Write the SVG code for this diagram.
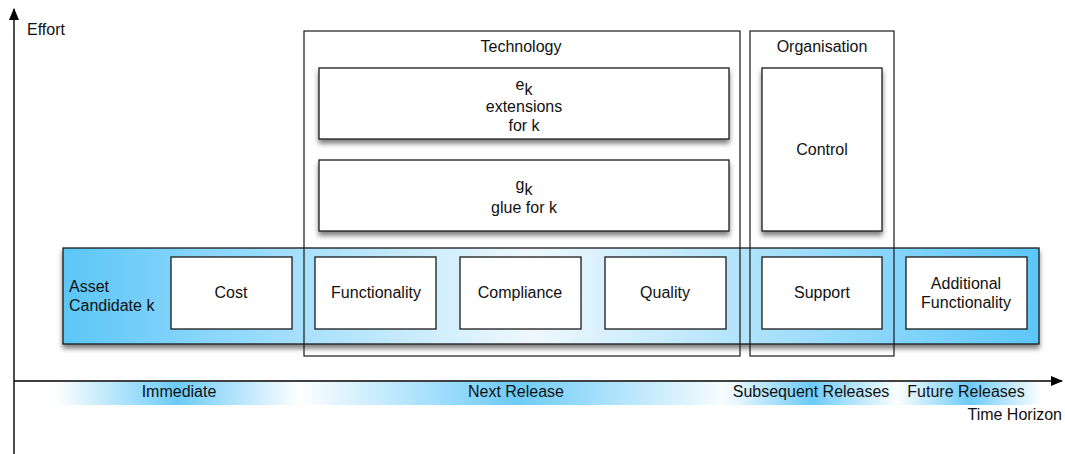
<svg xmlns="http://www.w3.org/2000/svg" width="1065" height="454" viewBox="0 0 1065 454">
<style>
text{font-family:"Liberation Sans",Arial,sans-serif;font-size:16px;fill:#111}
.c{text-anchor:middle}
.box{fill:#fff;stroke:#1a1a1a;stroke-width:1.3}
.grp{fill:none;stroke:#1a1a1a;stroke-width:1.2}
.axis{stroke:#000;stroke-width:1.4;fill:none}
</style>
<defs>
<filter id="sh" x="-10%" y="-20%" width="120%" height="150%">
<feDropShadow dx="0" dy="4" stdDeviation="2.5" flood-color="#000" flood-opacity="0.5"/>
</filter>
<linearGradient id="band" x1="0" y1="0" x2="1" y2="0">
<stop offset="0" stop-color="#5cc6f8"/>
<stop offset="0.48" stop-color="#eef8fe"/>
<stop offset="1" stop-color="#5cc6f8"/>
</linearGradient>
<linearGradient id="seg" x1="0" y1="0" x2="1" y2="0">
<stop offset="0" stop-color="#6ccbf8" stop-opacity="0"/>
<stop offset="0.5" stop-color="#6ccbf8" stop-opacity="1"/>
<stop offset="1" stop-color="#6ccbf8" stop-opacity="0"/>
</linearGradient>
<marker id="ah" markerWidth="12" markerHeight="10" refX="11" refY="5" orient="auto" markerUnits="userSpaceOnUse">
<path d="M0,0 L12,5 L0,10 Z" fill="#000"/>
</marker>
</defs>

<g id="timeline-bands">
<rect x="55" y="382" width="245" height="23" fill="url(#seg)"/>
<rect x="298" y="382" width="436" height="23" fill="url(#seg)"/>
<rect x="722" y="382" width="178" height="23" fill="url(#seg)"/>
<rect x="896" y="382" width="146" height="23" fill="url(#seg)"/>
</g>

<g id="connectors">
<line class="axis" x1="14" y1="454" x2="14" y2="9" marker-end="url(#ah)"/>
<line class="axis" x1="14" y1="381" x2="1062" y2="381" marker-end="url(#ah)"/>
</g>

<g id="axis-labels">
<text x="27" y="35">Effort</text>
<text x="1062" y="420" text-anchor="end">Time Horizon</text>
<text class="c" x="179" y="397">Immediate</text>
<text class="c" x="516" y="397">Next Release</text>
<text class="c" x="811" y="397">Subsequent Releases</text>
<text class="c" x="966" y="397">Future Releases</text>
</g>

<g id="asset-candidate">
<rect x="63" y="248" width="976" height="96" fill="url(#band)" stroke="#1a1a1a" stroke-width="1.3" filter="url(#sh)"/>
<text x="69" y="292">Asset</text>
<text x="69" y="311">Candidate k</text>
</g>

<g id="technology">
<rect class="grp" x="304" y="31" width="436" height="325"/>
<text class="c" x="521" y="52">Technology</text>
</g>

<g id="organisation">
<rect class="grp" x="750" y="31" width="144" height="325"/>
<text class="c" x="822" y="52">Organisation</text>
</g>

<g id="extensions">
<rect class="box" x="319" y="68" width="410" height="71" filter="url(#sh)"/>
<text class="c" x="524" y="90">e<tspan dy="5">k</tspan></text>
<text class="c" x="524" y="112">extensions</text>
<text class="c" x="524" y="131">for k</text>
</g>

<g id="glue">
<rect class="box" x="319" y="160" width="410" height="71" filter="url(#sh)"/>
<text class="c" x="524" y="190">g<tspan dy="5">k</tspan></text>
<text class="c" x="524" y="213">glue for k</text>
</g>

<g id="control">
<rect class="box" x="762" y="68" width="120" height="163" filter="url(#sh)"/>
<text class="c" x="822" y="155">Control</text>
</g>

<g id="cost">
<rect class="box" x="171" y="257" width="121" height="72"/>
<text class="c" x="231" y="298">Cost</text>
</g>
<g id="functionality">
<rect class="box" x="315" y="257" width="121" height="72"/>
<text class="c" x="376" y="298">Functionality</text>
</g>
<g id="compliance">
<rect class="box" x="460" y="257" width="121" height="72"/>
<text class="c" x="520" y="298">Compliance</text>
</g>
<g id="quality">
<rect class="box" x="605" y="257" width="121" height="72"/>
<text class="c" x="665" y="298">Quality</text>
</g>
<g id="support">
<rect class="box" x="762" y="257" width="120" height="72"/>
<text class="c" x="822" y="298">Support</text>
</g>
<g id="additional-functionality">
<rect class="box" x="906" y="257" width="121" height="72"/>
<text class="c" x="966" y="289">Additional</text>
<text class="c" x="966" y="308">Functionality</text>
</g>
</svg>
